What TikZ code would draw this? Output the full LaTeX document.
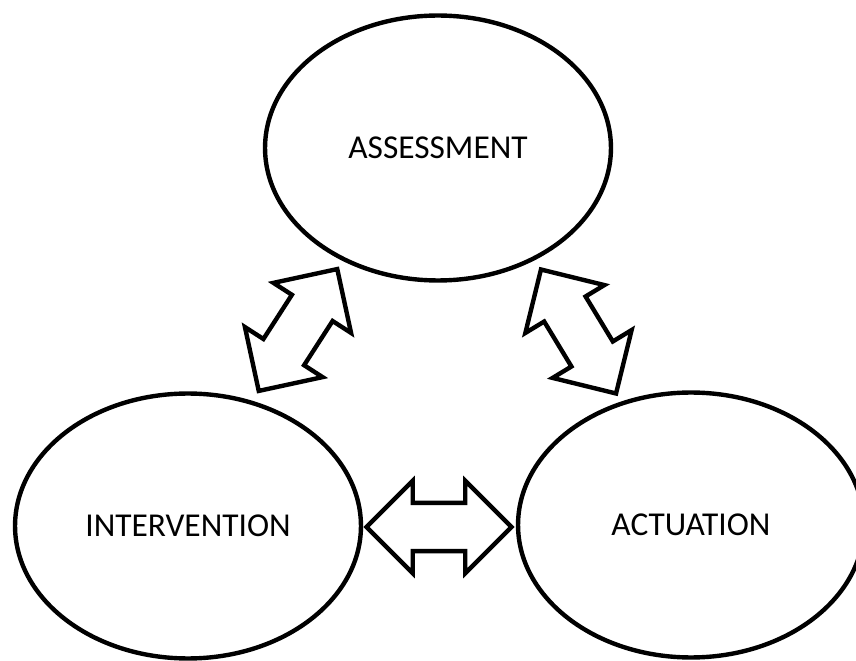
\documentclass[tikz,border=0pt]{standalone}
\usepackage{fontspec}
\setmainfont{Carlito}
\usepackage{tikz}
\usetikzlibrary{shapes.geometric,shapes.arrows}

\begin{document}
\begin{tikzpicture}[x=0.02cm,y=0.02cm,
	stage/.style={draw,ellipse,line width=2.5pt,minimum width=6.92cm,minimum height=5.3cm,
		inner sep=0pt,font=\fontsize{19}{23}\selectfont},
	dblarrow/.style={draw,double arrow,line width=2.5pt,inner xsep=0pt,inner ysep=0.44cm,
		double arrow head extend=0.44cm,minimum height=2.9cm}]
	
	\useasboundingbox (0,0) rectangle (856,660);
	
	\node[stage] (assess) at (438,512) {ASSESSMENT};
	\node[stage] (interv) at (188,134) {INTERVENTION};
	\node[stage] (actuat) at (691,135) {ACTUATION};
	
	% arrows between the stages
	\node[dblarrow,rotate=57.2] (arrowIA) at (298,330) {};
	\node[dblarrow,rotate=-58.8] (arrowAA) at (578.5,328.5) {};
	\node[dblarrow] (arrowIC) at (439,133) {};
	
\end{tikzpicture}
\end{document}
